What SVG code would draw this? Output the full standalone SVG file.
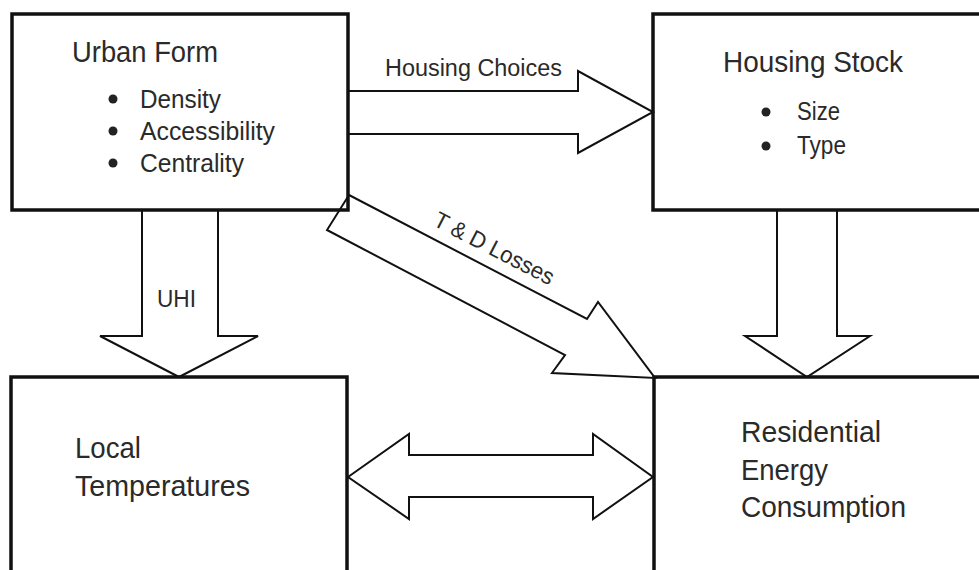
<svg xmlns="http://www.w3.org/2000/svg" width="979" height="570" viewBox="0 0 979 570">
<style>
.box{fill:none;stroke:#111;stroke-width:3.5}
.arr{fill:#fff;stroke:#111;stroke-width:2;stroke-linejoin:miter}
.t{font-family:"Liberation Sans",Arial,sans-serif;fill:#2a2a2a}
.title{font-size:30px}
.item{font-size:25px}
.lbl{font-size:23px}
.dot{fill:#222}
</style>
<rect width="979" height="570" fill="#fff"/>
<g id="connectors">
<polygon class="arr" points="348,91 578,91 578,71 653,112 578,153 578,134 348,134"/>
<polygon class="arr" points="142,210 218,210 218,336 258,336 179,377 100,336 142,336"/>
<polygon class="arr" points="777,210 837,210 837,336 870,336 807,377 745,336 777,336"/>
<polygon class="arr" points="348,477 409,434 409,455 593,455 593,434 653,477 593,519 593,497 409,497 409,519"/>
<polygon class="arr" points="349,195 587,319 598,302 655,378 552,373 565,355 327,230"/>
<text class="t lbl" x="385" y="76" textLength="177" lengthAdjust="spacingAndGlyphs">Housing Choices</text>
<text class="t lbl" x="157" y="307" textLength="39" lengthAdjust="spacingAndGlyphs">UHI</text>
<text class="t lbl" transform="translate(432,225) rotate(27.3)" textLength="132" lengthAdjust="spacingAndGlyphs">T &amp; D Losses</text>
</g>
<g id="urban-form">
<rect class="box" x="12" y="14" width="336" height="196"/>
<text class="t title" x="72" y="62" textLength="146" lengthAdjust="spacingAndGlyphs">Urban Form</text>
<circle class="dot" cx="113" cy="99" r="4.5"/>
<circle class="dot" cx="113" cy="131" r="4.5"/>
<circle class="dot" cx="113" cy="163" r="4.5"/>
<text class="t item" x="140" y="108" textLength="81" lengthAdjust="spacingAndGlyphs">Density</text>
<text class="t item" x="140" y="140" textLength="135" lengthAdjust="spacingAndGlyphs">Accessibility</text>
<text class="t item" x="140" y="172" textLength="104" lengthAdjust="spacingAndGlyphs">Centrality</text>
</g>
<g id="housing-stock">
<rect class="box" x="653" y="14" width="340" height="196"/>
<text class="t title" x="723" y="72" textLength="180" lengthAdjust="spacingAndGlyphs">Housing Stock</text>
<circle class="dot" cx="766" cy="112" r="4.5"/>
<circle class="dot" cx="766" cy="146" r="4.5"/>
<text class="t item" x="797" y="120" textLength="43" lengthAdjust="spacingAndGlyphs">Size</text>
<text class="t item" x="797" y="154" textLength="49" lengthAdjust="spacingAndGlyphs">Type</text>
</g>
<g id="local-temperatures">
<rect class="box" x="11" y="377" width="336" height="210"/>
<text class="t title" x="75" y="458" textLength="66" lengthAdjust="spacingAndGlyphs">Local</text>
<text class="t title" x="75" y="496" textLength="175" lengthAdjust="spacingAndGlyphs">Temperatures</text>
</g>
<g id="residential-energy">
<rect class="box" x="654" y="377" width="340" height="210"/>
<text class="t title" x="741" y="442" textLength="140" lengthAdjust="spacingAndGlyphs">Residential</text>
<text class="t title" x="741" y="480" textLength="87" lengthAdjust="spacingAndGlyphs">Energy</text>
<text class="t title" x="741" y="517" textLength="165" lengthAdjust="spacingAndGlyphs">Consumption</text>
</g>
</svg>
